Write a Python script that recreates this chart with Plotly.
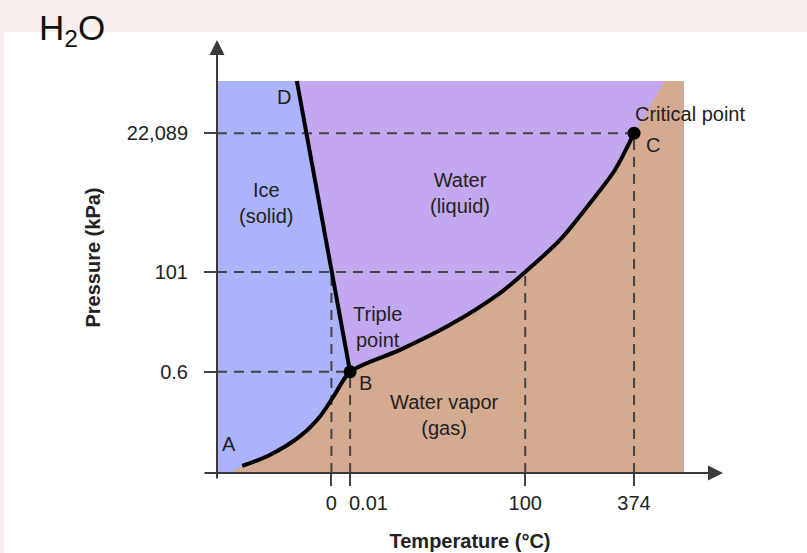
import plotly.graph_objects as go

# Schematic (not-to-scale) phase diagram of water. Coordinates are diagram units:
# x: 0..100 spans the coloured field, y: 0..100 spans the coloured field.
x_tick_pos = [24.5, 28.5, 66.0, 89.3]
x_tick_text = ["0", "0.01", "100", "374"]
y_tick_pos = [25.8, 51.3, 86.7]
y_tick_text = ["0.6", "101", "22,089"]

# Triple point B and critical point C
triple_x, triple_y = 28.5, 25.8
crit_x, crit_y = 89.3, 86.7
# top of the solid-liquid line (D)
d_x, d_y = 17.1, 100.0
# point where gas region meets top edge above critical point
gas_top_x = 95.9
# normal boiling point (100 degC, 101 kPa)
boil_x, boil_y = 66.0, 51.3
# normal melting point (0 degC, 101 kPa)
melt_x = 24.5

# Sublimation curve A -> B
sub_x = [5.4, 11.3, 17.8, 22.1, 25.0, 28.5]
sub_y = [1.8, 4.6, 9.4, 14.5, 19.6, 25.8]
# Vaporisation curve B -> C
vap_x = [28.5, 39.2, 49.9, 60.6, 66.0, 73.4, 79.9, 85.2, 89.3]
vap_y = [25.8, 31.4, 37.8, 45.9, 51.3, 59.4, 68.9, 77.3, 86.7]

BLUE = "#aab3fb"
PURPLE = "#c3a8f0"
TAN = "#d4aa91"
DASH_C = "#444444"
TXT = "#222222"
FONT = "Liberation Sans, Arial, sans-serif"

fig = go.Figure()

# Ice field (whole box, then overlaid)
fig.add_trace(go.Scatter(x=[0, 0, 100, 100, 0], y=[0, 100, 100, 0, 0], fill="toself",
                         fillcolor=BLUE, line=dict(width=0), mode="lines", hoverinfo="skip"))
# Liquid field
liq_x = [d_x] + vap_x + [gas_top_x, d_x]
liq_y = [d_y] + vap_y + [100, d_y]
fig.add_trace(go.Scatter(x=liq_x, y=liq_y, fill="toself", fillcolor=PURPLE,
                         line=dict(width=0), mode="lines", hoverinfo="skip"))
# Gas field
gas_x = [3.0] + sub_x + vap_x[1:] + [gas_top_x, 100, 100, 3.0]
gas_y = [0] + sub_y + vap_y[1:] + [100, 100, 0, 0]
fig.add_trace(go.Scatter(x=gas_x, y=gas_y, fill="toself", fillcolor=TAN,
                         line=dict(width=0), mode="lines", hoverinfo="skip"))

dash = "10px,7px"
dl = dict(color=DASH_C, width=2, dash=dash)
# horizontal guides
for hx, hy in [(crit_x, crit_y), (boil_x, boil_y), (triple_x, triple_y)]:
    fig.add_trace(go.Scatter(x=[0, hx], y=[hy, hy], mode="lines", line=dl, hoverinfo="skip"))
# vertical guides
for vx, vy in [(melt_x, boil_y), (triple_x, triple_y), (boil_x, boil_y), (crit_x, crit_y)]:
    fig.add_trace(go.Scatter(x=[vx, vx], y=[0, vy], mode="lines", line=dl, hoverinfo="skip"))

# phase boundaries
fig.add_trace(go.Scatter(x=[d_x, triple_x], y=[d_y, triple_y], mode="lines",
                         line=dict(color="black", width=4), hoverinfo="skip"))
fig.add_trace(go.Scatter(x=sub_x + vap_x[1:], y=sub_y + vap_y[1:], mode="lines",
                         line=dict(color="black", width=4, shape="spline", smoothing=0.8),
                         hoverinfo="skip"))
fig.add_trace(go.Scatter(x=[triple_x, crit_x], y=[triple_y, crit_y], mode="markers",
                         marker=dict(color="black", size=13), hoverinfo="skip"))

W, H = 807, 553
L, R, T, B = 217, 84, 42, 80
# axis tick labels: the 0.01 label is drawn left-aligned at its tick so it clears "0"
axis_ticktext = [t if t != "0.01" else "" for t in x_tick_text]
fig.update_layout(
    width=W, height=H, showlegend=False,
    margin=dict(l=L, r=R, t=T, b=B, autoexpand=False),
    paper_bgcolor="#f8eeee", plot_bgcolor="white",
    font=dict(family=FONT, color=TXT, size=20),
    xaxis=dict(range=[0, 108.35], showgrid=False, zeroline=False, showline=False,
               automargin=False, tickangle=0,
               tickmode="array", tickvals=x_tick_pos, ticktext=axis_ticktext,
               ticks="outside", ticklen=12, tickwidth=2, tickcolor=DASH_C,
               ticklabelstandoff=0, tickfont=dict(size=20, color=TXT),
               title=dict(text="<b>Temperature (°C)</b>", font=dict(size=20, color=TXT), standoff=20)),
    yaxis=dict(range=[0, 109.95], showgrid=False, zeroline=False, showline=False,
               automargin=False,
               tickmode="array", tickvals=y_tick_pos, ticktext=y_tick_text,
               ticks="outside", ticklen=12, tickwidth=2, tickcolor=DASH_C,
               ticklabelstandoff=12, tickfont=dict(size=20, color=TXT),
               title=dict(text="<b>Pressure (kPa)</b>", font=dict(size=20, color=TXT), standoff=20)),
)
for xv, tt in zip(x_tick_pos, x_tick_text):
    if tt == "0.01":
        fig.add_annotation(x=xv, xref="x", yref="paper", y=0, yshift=-30, text=tt,
                           showarrow=False, xanchor="left", yanchor="middle", xshift=-3,
                           font=dict(size=20, color=TXT, family=FONT))

pw, ph = W - L - R, H - T - B
# white sheet behind the chart
fig.add_shape(type="rect", xref="paper", yref="paper",
              x0=(4 - L) / pw, x1=(W + 10 - L) / pw,
              y0=-(B + 10) / ph, y1=((H - B) - 32) / ph,
              fillcolor="white", line=dict(width=0), layer="below")

# axis arrows
fig.add_annotation(xref="paper", yref="paper", x=1.0, y=0, ax=-520, ay=0, text="",
                   showarrow=True, arrowhead=2, arrowsize=1.5, arrowwidth=2, arrowcolor="#3a3a3a")
fig.add_annotation(xref="paper", yref="paper", x=0, y=(H - B - 40) / ph, ax=0, ay=440, text="",
                   showarrow=True, arrowhead=2, arrowsize=1.5, arrowwidth=2, arrowcolor="#3a3a3a")

# region / point labels
labels = [
    ("Ice<br>(solid)", 10.5, 68.9, "center"),
    ("Water<br>(liquid)", 52.0, 71.4, "center"),
    ("Triple<br>point", 28.7, 37.2, "left"),
    ("B", 31.9, 23.0, "center"),
    ("Water vapor<br>(gas)", 48.8, 14.8, "center"),
    ("A", 2.6, 7.4, "center"),
    ("D", 14.3, 95.9, "center"),
    ("Critical point", 101.3, 91.6, "center"),
    ("C", 93.4, 83.7, "center"),
]
for txt, lx, ly, anc in labels:
    fig.add_annotation(x=lx, y=ly, text=txt, showarrow=False, xanchor=anc,
                       font=dict(size=20, color=TXT, family=FONT))

fig.add_annotation(xref="paper", yref="paper", x=(37 - L) / pw, y=((H - B) - 30) / ph,
                   xanchor="left", yanchor="middle", text="H<sub>2</sub>O", showarrow=False,
                   font=dict(size=35, color="#111111", family=FONT))

fig.write_html("out.html")
